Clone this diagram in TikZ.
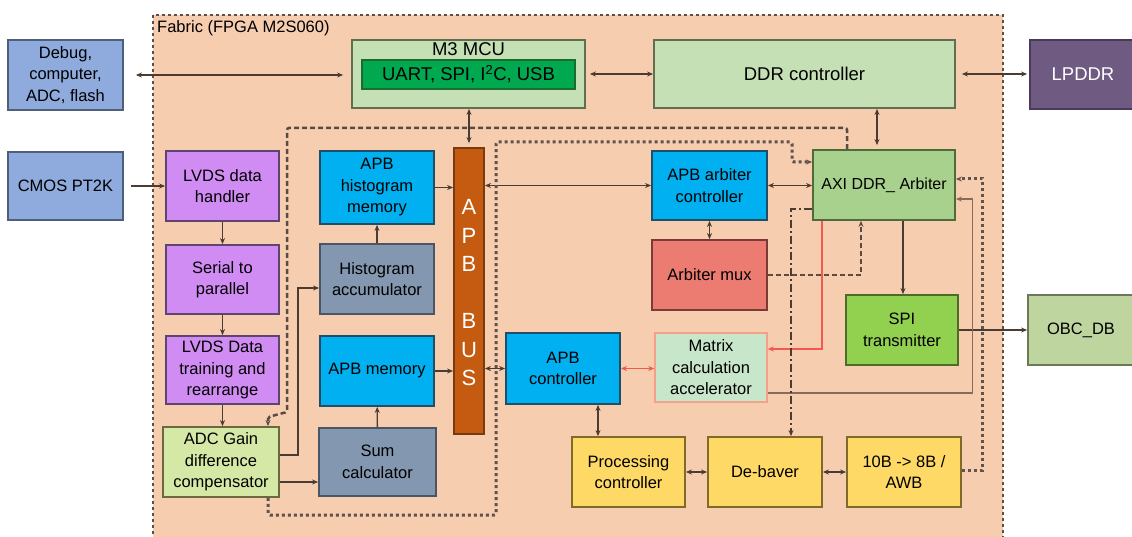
\documentclass[tikz,border=0pt]{standalone}
\usepackage{fontspec}
\setmainfont{Liberation Sans}
\usetikzlibrary{arrows.meta}
\definecolor{fabricc}{HTML}{F7CDB0}
\definecolor{fabricb}{HTML}{5E4E45}
\definecolor{lnc}{HTML}{4A3C32}
\definecolor{steelf}{HTML}{8FAADC}\definecolor{steeld}{HTML}{4E5F7A}
\definecolor{purf}{HTML}{D08CF2}\definecolor{purd}{HTML}{5E4470}
\definecolor{adcf}{HTML}{D6E8A6}\definecolor{adcd}{HTML}{6A6A40}
\definecolor{bluef}{HTML}{00B0F0}\definecolor{blued}{HTML}{1F4E66}
\definecolor{grayf}{HTML}{8497B0}\definecolor{grayd}{HTML}{4A5566}
\definecolor{busf}{HTML}{C55A11}\definecolor{busd}{HTML}{7A3A10}
\definecolor{muxf}{HTML}{EC7B72}\definecolor{muxd}{HTML}{7A3A35}
\definecolor{axif}{HTML}{A9D18E}\definecolor{axid}{HTML}{4F6B3A}
\definecolor{spif}{HTML}{92D050}\definecolor{spid}{HTML}{4F6B2A}
\definecolor{lgf}{HTML}{C5E0B4}\definecolor{lgd}{HTML}{5F6F50}
\definecolor{uartf}{HTML}{00A850}\definecolor{uartd}{HTML}{1E6B30}
\definecolor{matf}{HTML}{C8E6C9}\definecolor{matd}{HTML}{F4A08A}
\definecolor{yelf}{HTML}{FFD966}\definecolor{yeld}{HTML}{7F6A2A}
\definecolor{lpf}{HTML}{6F5A82}\definecolor{lpd}{HTML}{4A3A5A}
\definecolor{obcf}{HTML}{BFD5A0}\definecolor{obcd}{HTML}{6A7A58}
\definecolor{redl}{HTML}{F05A50}
\definecolor{thinl}{HTML}{8A6A5A}
\newcommand{\fsn}{\fontsize{16.5}{21.5}\selectfont}
\newcommand{\fsb}{\fontsize{18.5}{22}\selectfont}
\tikzset{
  box/.style={draw, line width=1.8pt, align=center, inner sep=1pt, font=\fsn, text=black},
  wh/.style 2 args={minimum width=#1, minimum height=#2},
  ln/.style={draw=lnc, line width=1.4pt},
  redln/.style={draw=redl, line width=1.1pt},
  thinln/.style={draw=thinl, line width=1.2pt},
  dsh/.style={draw=lnc!92, line width=2.5pt, dash pattern=on 5pt off 3pt},
  dotln/.style={draw=lnc!88, line width=3pt, dash pattern=on 3pt off 3pt},
  ddot/.style={draw=lnc, line width=1.8pt, dash pattern=on 8pt off 3pt on 2pt off 3pt}
}
\begin{document}
\begin{tikzpicture}[x=1pt,y=-1pt, >={Stealth[length=6pt,width=5pt]}]
\useasboundingbox (0,0) rectangle (1132,537);
\fill[white] (0,0) rectangle (1132,537);
% fabric region
\draw[fill=fabricc, draw=fabricb, line width=2.3pt, dash pattern=on 3pt off 3pt] (153,15) rectangle (1003,560);
\node[anchor=west, font=\fsn, inner sep=0pt] (fablbl) at (157,28) {Fabric (FPGA M2S060)};

% outside boxes
\node[box, fill=steelf, draw=steeld, wh={115pt}{70pt}] (dbg) at (65.5,75) {Debug,\\computer,\\ADC, flash};
\node[box, fill=steelf, draw=steeld, wh={115pt}{68pt}] (cmos) at (65.5,186) {CMOS PT2K};
\node[box, fill=lpf, draw=lpd, wh={106pt}{69pt}, font=\fsb, text=white] (lpddr) at (1083,74.5) {LPDDR};
\node[box, fill=obcf, draw=obcd, wh={106pt}{70pt}] (obc) at (1081,330) {OBC\_DB};

% top row
\node[box, fill=lgf, draw=lgd, wh={233pt}{68pt}] (mcu) at (468.5,74) {};
\node[font=\fsb, inner sep=0pt] (mcul) at (468.5,49) {M3 MCU};
\node[box, fill=uartf, draw=uartd, wh={213pt}{29pt}, font=\fsb] (uart) at (468.5,74.5) {UART, SPI, I\textsuperscript{2}C, USB};
\node[box, fill=lgf, draw=lgd, wh={301pt}{68pt}, font=\fsb] (ddr) at (804.5,74) {DDR controller};

% left column
\node[box, fill=purf, draw=purd, wh={113pt}{70pt}] (lvdsa) at (222.5,186) {LVDS data\\handler};
\node[box, fill=purf, draw=purd, wh={113pt}{69pt}] (s2p) at (222.5,279.5) {Serial to\\parallel};
\node[box, fill=purf, draw=purd, wh={113pt}{68pt}] (lvdsb) at (222.5,370) {LVDS Data\\training and\\rearrange};
\node[box, fill=adcf, draw=adcd, wh={116pt}{70pt}] (adc) at (221,462) {ADC Gain\\difference\\compensator};

% second column
\node[box, fill=bluef, draw=blued, wh={114pt}{73pt}] (hmem) at (377,187.5) {APB\\histogram\\memory};
\node[box, fill=grayf, draw=grayd, wh={114pt}{70pt}] (hacc) at (377,279) {Histogram\\accumulator};
\node[box, fill=bluef, draw=blued, wh={114pt}{70pt}] (amem) at (377,371) {APB memory};
\node[box, fill=grayf, draw=grayd, wh={117pt}{68pt}] (sum) at (377.5,462) {Sum\\calculator};

% bus
\node[box, fill=busf, draw=busd, wh={30pt}{286pt}] (bus) at (469,291) {};
\node[align=center, text=white, font=\fontsize{22}{28.5}\selectfont, inner sep=0pt] (busl) at (469,293) {A\\P\\B\\\strut\\B\\U\\S};

% right area
\node[box, fill=bluef, draw=blued, wh={115pt}{69pt}] (arbc) at (709.5,185.5) {APB arbiter\\controller};
\node[box, fill=muxf, draw=muxd, wh={115pt}{70pt}] (amux) at (709.5,275) {Arbiter mux};
\node[box, fill=axif, draw=axid, wh={142pt}{70pt}, font=\fontsize{16}{20}\selectfont] (axi) at (884,185) {AXI DDR\_ Arbiter};
\node[box, fill=spif, draw=spid, wh={112pt}{70pt}] (spi) at (902,330) {SPI\\transmitter};
\node[box, fill=bluef, draw=blued, wh={114pt}{71pt}] (apbc) at (563,368.5) {APB\\controller};
\node[box, fill=matf, draw=matd, line width=1.5pt, wh={112pt}{69pt}] (mat) at (711,367.5) {Matrix\\calculation\\accelerator};
\node[box, fill=yelf, draw=yeld, wh={113pt}{70pt}] (proc) at (628.5,472) {Processing\\controller};
\node[box, fill=yelf, draw=yeld, wh={114pt}{70pt}] (deb) at (765,472) {De-baver};
\node[box, fill=yelf, draw=yeld, wh={114pt}{70pt}] (b10) at (904,472) {10B -> 8B /\\AWB};

% solid connectors
\draw[ln, <->, shorten <=12pt, shorten >=8pt] (dbg.east) -- (dbg.east -| mcu.west);
\draw[ln, ->, shorten <=7pt] (cmos.east) -- (cmos.east -| lvdsa.west);
\draw[ln, <->, shorten <=4pt] (mcu.east) -- (mcu.east -| ddr.west);
\draw[ln, <->, shorten <=6pt, shorten >=2pt] (ddr.east) -- (ddr.east -| lpddr.west);
\draw[ln, <->, shorten <=4pt] ([xshift=-7pt]axi.north) -- ([xshift=-7pt]axi.north |- ddr.south);
\draw[ln, <->, shorten <=4pt] (bus.north) -- (bus.north |- mcu.south);
\draw[ln, ->] (lvdsa) -- (s2p);
\draw[ln, ->] (s2p) -- (lvdsb);
\draw[ln, ->] (lvdsb.south) -- (lvdsb.south |- adc.north);
\draw[ln, ->] (hmem.east) -- (hmem.east -| bus.west);
\draw[ln, ->] (hacc) -- (hmem);
\draw[ln, ->] ([yshift=7pt]adc.east) -- ++(18,0) |- ([yshift=-9pt]hacc.west);
\draw[ln, ->] ([yshift=-20pt]adc.east) -- ([yshift=-20pt]adc.east -| sum.west);
\draw[ln, ->] (sum) -- (amem);
\draw[ln, ->] (amem.east) -- (amem.east -| bus.west);
\draw[ln, <->] (arbc.west -| bus.east) -- (arbc.west);
\draw[ln, <->] (apbc.west -| bus.east) -- (apbc.west);
\draw[ln, <->] (arbc.east) -- (arbc.east -| axi.west);
\draw[ln, <->] (arbc) -- (amux);
\draw[ln, <->] ([xshift=35pt]apbc.south) -- ([xshift=35pt]apbc.south |- proc.north);
\draw[ln, <->] (proc) -- (deb);
\draw[ln, <->] (deb) -- (b10);
\draw[ln, ->] ([xshift=19pt]axi.south) -- ([xshift=19pt]axi.south |- spi.north);
\draw[ln, ->] (spi.east) -- (spi.east -| obc.west);

% red and thin connectors
\draw[redln, <->] (apbc.east) -- (apbc.east -| mat.west);
\draw[redln, ->] ([xshift=-62pt]axi.south) |- ([yshift=18.5pt]mat.east);
\draw[thinln, ->] ([yshift=-25.5pt]mat.east) -- ++(205,0) |- ([yshift=-14pt]axi.east);

% dashed / dotted connectors
\draw[ddot, ->] ([yshift=-24pt]axi.west) -| ([xshift=26pt]deb.north);
\draw[dsh, ->] (amux.east) -| ([xshift=-23pt]axi.south);
\draw[dotln, ->] ([yshift=2pt]b10.east) -- ++(21,0) |- ([yshift=6pt]axi.east);
\draw[dotln, ->, rounded corners=2pt] ([xshift=47pt]adc.south) -- (268,515) -- (496,515) -- (496,142) -- (792,142) |- ([yshift=23pt]axi.west);
\draw[dsh, ->, rounded corners=2pt] ([xshift=-37pt]axi.north) -- (847,128) -- (287,128) -- (287,412) -- (268,417) -- ([xshift=47pt]adc.north);
\end{tikzpicture}
\end{document}
